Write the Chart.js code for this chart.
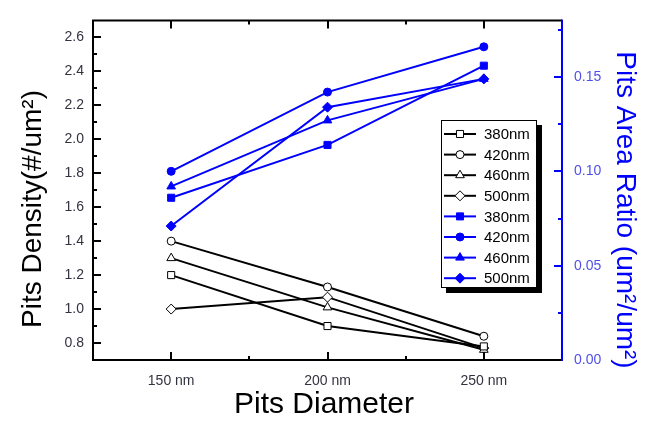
<!DOCTYPE html>
<html>
<head>
<meta charset="utf-8">
<script src="https://cdn.jsdelivr.net/npm/chart.js@4/dist/chart.umd.min.js"></script>
<style>
  html, body { margin: 0; padding: 0; background: #fff; }
  #wrap { width: 646px; height: 423px; }
</style>
</head>
<body>
<div id="wrap"><canvas id="c" width="646" height="423"></canvas></div>
<script>
// ---- data ----
const diameters = [150, 200, 250];
const seriesNames = ['380nm', '420nm', '460nm', '500nm'];
const density380 = [1.20, 0.90, 0.78];
const density420 = [1.40, 1.13, 0.84];
const density460 = [1.30, 1.01, 0.76];
const density500 = [1.00, 1.07, 0.77];
const ratio380 = [0.086, 0.114, 0.156];
const ratio420 = [0.100, 0.142, 0.166];
const ratio460 = [0.092, 0.127, 0.149];
const ratio500 = [0.071, 0.134, 0.149];
const xTicks = [150, 200, 250];
const leftTicks = [0.8, 1.0, 1.2, 1.4, 1.6, 1.8, 2.0, 2.2, 2.4, 2.6];
const rightTicks = [0.00, 0.05, 0.10, 0.15];

const FONT = "Arial, 'Liberation Sans', sans-serif";
const BLUE = '#0000ff';
const styles = ['rect', 'circle', 'triangle', 'rectRot'];
const radii = [5, 4, 5, 5];

function pts(vals) { return diameters.map((d, i) => ({ x: d, y: vals[i] })); }

const densitySets = [density380, density420, density460, density500];
const ratioSets = [ratio380, ratio420, ratio460, ratio500];

const datasets = [];
densitySets.forEach((v, i) => datasets.push({
  label: seriesNames[i], data: pts(v), yAxisID: 'y',
  borderColor: '#000', borderWidth: 2, backgroundColor: '#fff',
  pointStyle: styles[i], pointRadius: radii[i], pointBorderWidth: 1,
  pointBorderColor: '#000', pointBackgroundColor: '#fff', tension: 0
}));
ratioSets.forEach((v, i) => datasets.push({
  label: seriesNames[i], data: pts(v), yAxisID: 'y1',
  borderColor: BLUE, borderWidth: 2, backgroundColor: BLUE,
  pointStyle: styles[i], pointRadius: radii[i], pointBorderWidth: 1,
  pointBorderColor: BLUE, pointBackgroundColor: BLUE, tension: 0
}));

function drawMarker(ctx, style, r, x, y, fill, stroke) {
  ctx.save();
  ctx.fillStyle = fill; ctx.strokeStyle = stroke; ctx.lineWidth = 1;
  if (Chart.helpers && Chart.helpers.drawPoint) {
    Chart.helpers.drawPoint(ctx, { pointStyle: style, radius: r, rotation: 0, borderWidth: 1 }, x, y);
  } else {
    ctx.beginPath(); ctx.arc(x, y, r, 0, Math.PI * 2); ctx.fill(); ctx.stroke();
  }
  ctx.restore();
}

const framePlugin = {
  id: 'frame',
  afterDatasetsDraw(chart) {
    const { ctx, chartArea: a, scales } = chart;
    const x = scales.x, y = scales.y, y1 = scales.y1;
    ctx.save();
    ctx.lineCap = 'butt';
    ctx.strokeStyle = '#000'; ctx.lineWidth = 2;
    ctx.beginPath();
    ctx.moveTo(a.right, a.top); ctx.lineTo(a.left, a.top);
    ctx.lineTo(a.left, a.bottom); ctx.lineTo(a.right, a.bottom);
    ctx.stroke();
    ctx.beginPath();
    for (let k = 8; k <= 26; k++) {
      const py = Math.round(y.getPixelForValue(k / 10));
      const len = (k % 2 === 0) ? 8 : 4;
      ctx.moveTo(a.left, py); ctx.lineTo(a.left + len, py);
    }
    [150, 175, 200, 225, 250].forEach(v => {
      const px = Math.round(x.getPixelForValue(v));
      const len = (v % 50 === 0) ? 8 : 4;
      ctx.moveTo(px, a.bottom); ctx.lineTo(px, a.bottom - len);
      ctx.moveTo(px, a.top); ctx.lineTo(px, a.top + len);
    });
    ctx.stroke();
    ctx.strokeStyle = BLUE;
    ctx.beginPath();
    ctx.moveTo(a.right, a.top - 1); ctx.lineTo(a.right, a.bottom + 1);
    for (let k = 1; k <= 7; k++) {
      const py = Math.round(y1.getPixelForValue(k * 0.025));
      const len = (k % 2 === 0) ? 8 : 4;
      ctx.moveTo(a.right, py); ctx.lineTo(a.right - len, py);
    }
    ctx.stroke();
    ctx.restore();
  },
  afterDraw(chart) {
    const { ctx } = chart;
    ctx.save();
    ctx.fillStyle = '#000';
    ctx.textAlign = 'center'; ctx.textBaseline = 'middle';
    ctx.font = '30px ' + FONT;
    ctx.fillText('Pits Diameter', 324, 405);
    ctx.font = '28px ' + FONT;
    ctx.save();
    ctx.translate(33, 209); ctx.rotate(-Math.PI / 2);
    ctx.fillText('Pits Density(#/um²)', 0, 0);
    ctx.restore();
    ctx.save();
    ctx.fillStyle = BLUE;
    ctx.translate(625, 210); ctx.rotate(Math.PI / 2);
    ctx.fillText('Pits Area Ratio (um²/um²)', 0, 0);
    ctx.restore();

    const L = 441, T = 120, R = 537, B = 288;
    ctx.fillStyle = '#000';
    ctx.fillRect(L + 5, T + 5, R - L, B - T);
    ctx.fillStyle = '#fff';
    ctx.fillRect(L, T, R - L, B - T);
    ctx.strokeStyle = '#000'; ctx.lineWidth = 1;
    ctx.strokeRect(L + 0.5, T + 0.5, R - L - 1, B - T - 1);
    const ds = chart.data.datasets;
    ctx.font = '15px ' + FONT;
    ctx.textAlign = 'left'; ctx.textBaseline = 'middle';
    ds.forEach((d, i) => {
      const ry = 134 + i * 20.6;
      ctx.strokeStyle = d.borderColor; ctx.lineWidth = 2;
      ctx.beginPath(); ctx.moveTo(444, ry); ctx.lineTo(476, ry); ctx.stroke();
      drawMarker(ctx, d.pointStyle, d.pointRadius, 460, ry, d.pointBackgroundColor, d.pointBorderColor);
      ctx.fillStyle = '#000';
      ctx.fillText(d.label, 484, ry + 1);
    });
    ctx.restore();
  }
};

new Chart(document.getElementById('c'), {
  type: 'line',
  data: { datasets },
  plugins: [framePlugin],
  options: {
    responsive: false,
    devicePixelRatio: 1,
    animation: false,
    layout: { padding: { top: 15, left: 0, right: 0, bottom: 0 } },
    plugins: { legend: { display: false }, tooltip: { enabled: false } },
    scales: {
      x: {
        type: 'linear', position: 'bottom', min: 125, max: 275,
        afterBuildTicks: s => { s.ticks = xTicks.map(v => ({ value: v })); },
        afterFit: s => { s.height = 63; },
        grid: { display: false, drawTicks: false }, border: { display: false },
        ticks: { autoSkip: false, maxRotation: 0, padding: 13, color: '#333340',
          font: { family: FONT, size: 14 }, callback: v => v + ' nm' }
      },
      y: {
        type: 'linear', position: 'left', min: 0.7, max: 2.7,
        afterBuildTicks: s => { s.ticks = leftTicks.map(v => ({ value: v })); },
        afterFit: s => { s.width = 93; },
        grid: { display: false, drawTicks: false }, border: { display: false },
        ticks: { autoSkip: false, padding: 9, color: '#333340',
          font: { family: FONT, size: 14 }, callback: v => Number(v).toFixed(1) }
      },
      y1: {
        type: 'linear', position: 'right', min: 0, max: 0.18,
        afterBuildTicks: s => { s.ticks = rightTicks.map(v => ({ value: v })); },
        afterFit: s => { s.width = 84; },
        grid: { display: false, drawTicks: false }, border: { display: false },
        ticks: { autoSkip: false, padding: 12, color: '#5050e8',
          font: { family: FONT, size: 14 }, callback: v => Number(v).toFixed(2) }
      }
    }
  }
});
</script>
</body>
</html>
